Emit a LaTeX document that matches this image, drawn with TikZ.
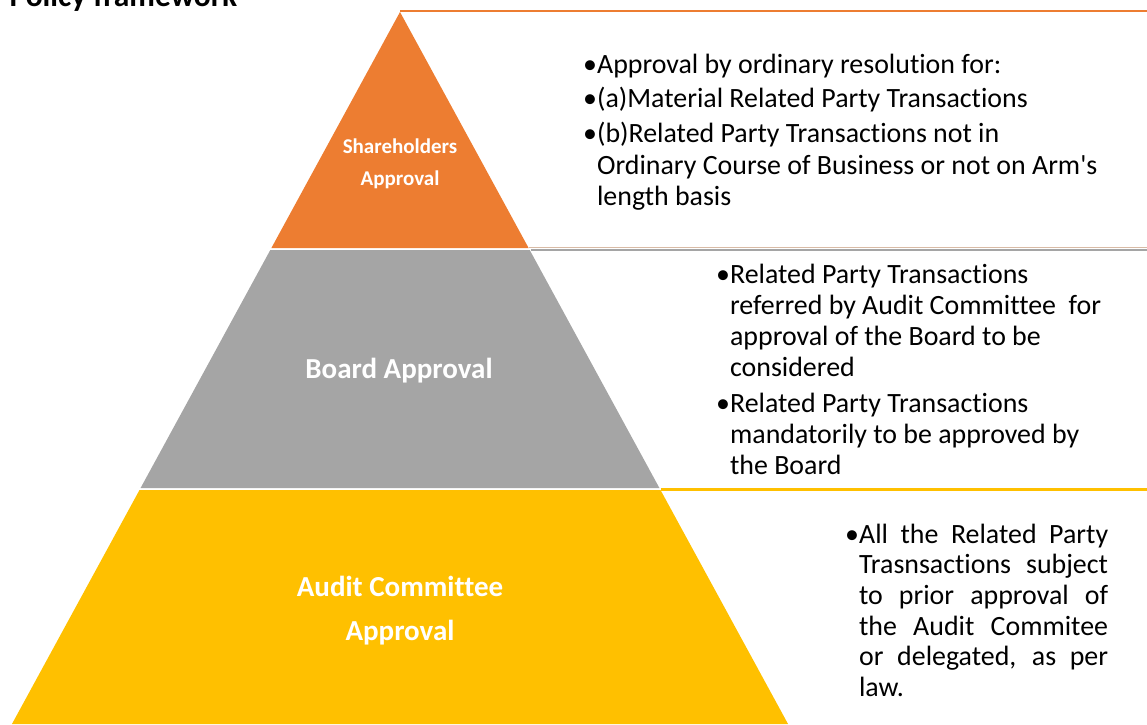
\documentclass[tikz,border=0pt]{standalone}
\usepackage{fontspec}
\setmainfont{Carlito}[Ligatures=NoCommon]
\usetikzlibrary{positioning}

\definecolor{shOrange}{HTML}{ED7D31}
\definecolor{bdGray}{HTML}{A5A5A5}
\definecolor{acYellow}{HTML}{FFC000}
\definecolor{sepTan}{HTML}{D8BBA6}

\tikzset{
  tier/.style={text=white, align=center, inner sep=0pt},
  note/.style={anchor=base west, text width=540pt, align=justify, inner sep=0pt,
    font=\fontsize{27.9}{31.5}\selectfont},
}

\begin{document}
\begin{tikzpicture}[x=1pt,y=-1pt]
\useasboundingbox (0,0) rectangle (1147,724);

\def \apex {400}
\def \slope {0.545} % half width per unit of height

% pyramid layers, top to bottom
\foreach \ya/\yb/\col in {12/248/shOrange, 250/488/bdGray, 490/724/acYellow}
{
  \fill[\col] ({\apex-\slope*(\ya-12)},\ya) -- ({\apex+\slope*(\ya-12)},\ya)
    -- ({\apex+\slope*(\yb-12)},\yb) -- ({\apex-\slope*(\yb-12)},\yb) -- cycle;
}

\coordinate (edge) at (1147,0);
\coordinate (tip) at (400,11);
\coordinate (shR) at (529,247.6);
\coordinate (bdR) at (531,249.8);
\coordinate (acR) at (661,489.6);

\draw[shOrange, line width=1.6pt] (tip) -- (tip -| edge);
\draw[sepTan, line width=1pt] (shR) -- (shR -| edge);
\draw[bdGray, line width=2pt] (bdR) -- (bdR -| edge);
\draw[acYellow, line width=2.4pt] (acR) -- (acR -| edge);

\node[anchor=base west, font=\fontsize{31.5}{31.5}\selectfont\bfseries] (title) at (6,6) {Policy framework};

\node[tier, font=\fontsize{21}{32}\selectfont\bfseries] (sh) at (400,163.5) {Shareholders\\Approval};
\node[tier, font=\fontsize{29}{36}\selectfont\bfseries] (bd) at (399,371) {Board Approval};
\node[tier, font=\fontsize{29}{44}\selectfont\bfseries] (ac) at (400,611) {Audit Committee\\Approval};

\node[note] (sh1) at (583,73.7) {•Approval by ordinary resolution for:};
\node[note] (sh2) at (583,107.7) {•(a)Material Related Party Transactions};
\node[note] (sh3) at (583,142.7) {•(b)Related Party Transactions not in\\
  \phantom{•}Ordinary Course of Business or not on Arm\textquotesingle s\\
  \phantom{•}length basis};

\node[note, font=\fontsize{27.9}{31}\selectfont] (bd1) at (716,283.2) {•Related Party Transactions\\
  \phantom{•}referred by Audit Committee\ \ for\\
  \phantom{•}approval of the Board to be\\
  \phantom{•}considered};
\node[note, font=\fontsize{27.9}{31}\selectfont] (bd2) at (716,412.2) {•Related Party Transactions\\
  \phantom{•}mandatorily to be approved by\\
  \phantom{•}the Board};

\node[note, text width=270pt, font=\fontsize{27.9}{30.6}\selectfont] (ac1) at (845,543.2) {%
  •\makebox[249pt][s]{All the Related Party}\\
  \phantom{•}\makebox[249pt][s]{Trasnsactions subject}\\
  \phantom{•}\makebox[249pt][s]{to prior approval of}\\
  \phantom{•}\makebox[249pt][s]{the Audit Commitee}\\
  \phantom{•}\makebox[249pt][s]{or delegated, as per}\\
  \phantom{•}law.};
\end{tikzpicture}
\end{document}
